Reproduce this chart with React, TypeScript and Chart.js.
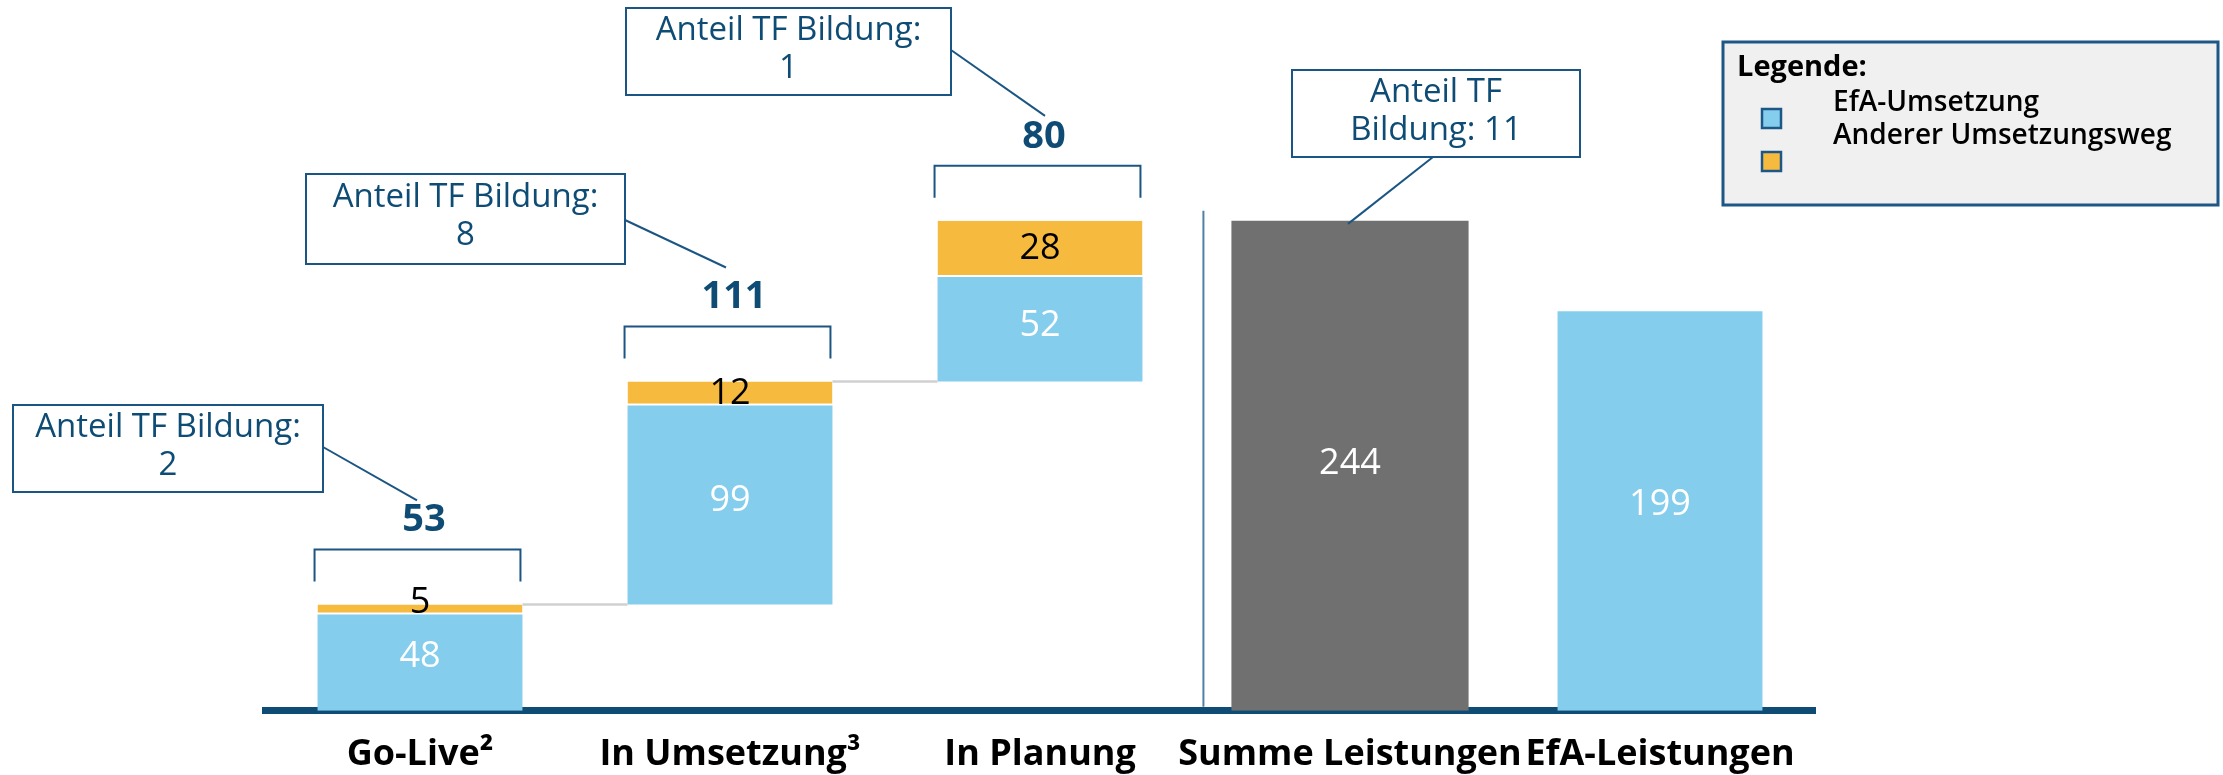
import React, { useEffect, useRef } from "react";
import { Chart, registerables } from "chart.js";

Chart.register(...registerables);

// ---------- data ----------
const categories = ["Go-Live²", "In Umsetzung³", "In Planung", "Summe Leistungen", "EfA-Leistungen"];
const efaValues: (number | null)[] = [48, 99, 52, null, 199];
const otherValues: (number | null)[] = [5, 12, 28, null, null];
const sumValues: (number | null)[] = [null, null, null, 244, null];
const totalValues: (number | null)[] = [53, 111, 80, null, null];
const tfShares: (number | null)[] = [2, 8, 1, 11, null];
const waterfallSteps = [true, true, true, false, false];

// ---------- styles ----------
const FONT = "'Open Sans', 'Noto Sans', 'DejaVu Sans', sans-serif";
const BLUE = "#84CDEC";
const ORANGE = "#F6BA3E";
const GRAY = "#707070";
const NAVY = "#0E4C75";
const BOXLINE = "#1B5583";

// build floating ranges from the values (waterfall)
const blueRanges: ([number, number] | null)[] = [];
const orangeRanges: ([number, number] | null)[] = [];
const sumRanges: ([number, number] | null)[] = [];
let running = 0;
categories.forEach((_, i) => {
  const base = waterfallSteps[i] ? running : 0;
  const b = efaValues[i];
  const o = otherValues[i];
  blueRanges.push(b == null ? null : [base, base + b]);
  orangeRanges.push(o == null ? null : [base + (b ?? 0), base + (b ?? 0) + o]);
  sumRanges.push(sumValues[i] == null ? null : [0, sumValues[i] as number]);
  if (waterfallSteps[i]) running = base + (b ?? 0) + (o ?? 0);
});

// callout box layout (annotation positions, not data)
const calloutLayout = [
  { left: 13, top: 405, width: 310, height: 87, anchor: [323, 447], end: [-3, -104], split: false },
  { left: 306, top: 174, width: 319, height: 90, anchor: [625, 220], end: [-4, -114], split: false },
  { left: 626, top: 8, width: 325, height: 87, anchor: [951, 50], end: [5, -105], split: false },
  { left: 1292, top: 70, width: 288, height: 87, anchor: [1433, 157], end: [-2, 3], split: true },
];

const annotationPlugin = {
  id: "annotations",
  afterDatasetsDraw(chart: any) {
    const ctx: CanvasRenderingContext2D = chart.ctx;
    const blue = chart.getDatasetMeta(0).data;
    const orange = chart.getDatasetMeta(1).data;
    const sum = chart.getDatasetMeta(2).data;
    const axisTop = chart.chartArea.bottom - 4;
    ctx.save();

    // waterfall connectors
    ctx.strokeStyle = "#D0D0D0";
    ctx.lineWidth = 2.5;
    for (let i = 0; i < 2; i++) {
      const a = orange[i];
      const b = blue[i + 1];
      ctx.beginPath();
      ctx.moveTo(a.x + a.width / 2, a.y);
      ctx.lineTo(b.x - b.width / 2, a.y);
      ctx.stroke();
    }

    // separator line before the sum bar
    const s = sum[3];
    ctx.strokeStyle = "#4F80A8";
    ctx.lineWidth = 2;
    ctx.beginPath();
    const sepX = s.x - s.width / 2 - 28;
    ctx.moveTo(sepX, s.y - 10);
    ctx.lineTo(sepX, axisTop);
    ctx.stroke();

    // brackets + totals
    for (let i = 0; i < 3; i++) {
      const top = orange[i];
      const left = top.x - top.width / 2 - 3;
      const right = top.x + top.width / 2 - 2;
      ctx.strokeStyle = BOXLINE;
      ctx.lineWidth = 2;
      ctx.beginPath();
      ctx.moveTo(left, top.y - 23);
      ctx.lineTo(left, top.y - 55);
      ctx.lineTo(right, top.y - 55);
      ctx.lineTo(right, top.y - 23);
      ctx.stroke();
      ctx.fillStyle = NAVY;
      ctx.font = `bold 38px ${FONT}`;
      ctx.textAlign = "center";
      ctx.textBaseline = "middle";
      ctx.fillText(String(totalValues[i]), top.x + 4, top.y - 84);
    }

    // segment labels
    ctx.textAlign = "center";
    ctx.font = `36px ${FONT}`;
    categories.forEach((_, i) => {
      const b = blue[i];
      if (efaValues[i] != null && b) {
        const bottom = Math.min(b.base, axisTop);
        ctx.fillStyle = "#FFFFFF";
        ctx.textBaseline = "middle";
        ctx.fillText(String(efaValues[i]), b.x, (b.y + bottom) / 2 - 4);
      }
      const o = orange[i];
      if (otherValues[i] != null && o) {
        ctx.fillStyle = "#000000";
        const h = o.base - o.y;
        if (h < 16) {
          ctx.textBaseline = "alphabetic";
          ctx.fillText(String(otherValues[i]), o.x, o.base - 1);
        } else {
          ctx.textBaseline = "middle";
          ctx.fillText(String(otherValues[i]), o.x, (o.y + o.base) / 2);
        }
      }
      const sm = sum[i];
      if (sumValues[i] != null && sm) {
        ctx.fillStyle = "#FFFFFF";
        ctx.textBaseline = "middle";
        ctx.fillText(String(sumValues[i]), sm.x, (sm.y + Math.min(sm.base, axisTop)) / 2);
      }
    });

    // callout boxes
    calloutLayout.forEach((c, i) => {
      const bar = i < 3 ? orange[i] : sum[i];
      const tf = tfShares[i];
      const lines = c.split ? ["Anteil TF", `Bildung: ${tf}`] : ["Anteil TF Bildung:", String(tf)];
      ctx.strokeStyle = BOXLINE;
      ctx.lineWidth = 2;
      ctx.beginPath();
      ctx.moveTo(c.anchor[0], c.anchor[1]);
      ctx.lineTo(bar.x + c.end[0], bar.y + c.end[1]);
      ctx.stroke();
      ctx.fillStyle = "#FFFFFF";
      ctx.fillRect(c.left, c.top, c.width, c.height);
      ctx.strokeRect(c.left, c.top, c.width, c.height);
      ctx.fillStyle = NAVY;
      ctx.font = `33px ${FONT}`;
      ctx.textAlign = "center";
      ctx.textBaseline = "middle";
      const cx = c.left + c.width / 2;
      const cy = c.top + c.height / 2 - 2;
      ctx.fillText(lines[0], cx, cy - 19);
      ctx.fillText(lines[1], cx, cy + 19);
    });

    // legend
    const lx = 1723, ly = 42, lw = 495, lh = 163;
    ctx.fillStyle = "#F0F0F0";
    ctx.fillRect(lx, ly, lw, lh);
    ctx.strokeStyle = "#1D5786";
    ctx.lineWidth = 3;
    ctx.strokeRect(lx, ly, lw, lh);
    ctx.fillStyle = "#000000";
    ctx.textAlign = "left";
    ctx.textBaseline = "alphabetic";
    ctx.font = `bold 29px ${FONT}`;
    ctx.fillText("Legende:", 1737, 76);
    ctx.font = `600 28px ${FONT}`;
    const legendItems = [0, 1];
    legendItems.forEach((d, k) => {
      const ds = chart.data.datasets[d];
      ctx.fillStyle = "#000000";
      ctx.fillText(ds.label, 1833, 111 + k * 33);
      ctx.fillStyle = ds.backgroundColor;
      const sy = 109 + k * 43;
      ctx.fillRect(1762, sy, 19, 19);
      ctx.strokeStyle = "#1D5786";
      ctx.lineWidth = 2.5;
      ctx.strokeRect(1762, sy, 19, 19);
    });

    ctx.restore();
  },
};

export default function App() {
  const ref = useRef<HTMLCanvasElement>(null);
  useEffect(() => {
    const chart = new Chart(ref.current as HTMLCanvasElement, {
      type: "bar",
      data: {
        labels: categories,
        datasets: [
          {
            label: "EfA-Umsetzung",
            data: blueRanges as any,
            backgroundColor: BLUE,
            borderWidth: 0,
            barPercentage: 0.661,
            categoryPercentage: 1,
            grouped: false,
          },
          {
            label: "Anderer Umsetzungsweg",
            data: orangeRanges as any,
            backgroundColor: ORANGE,
            borderColor: "#FFFFFF",
            borderWidth: { top: 0, left: 0, right: 0, bottom: 2 },
            borderSkipped: false,
            barPercentage: 0.661,
            categoryPercentage: 1,
            grouped: false,
          },
          {
            label: "Summe Leistungen",
            data: sumRanges as any,
            backgroundColor: GRAY,
            borderWidth: 0,
            barPercentage: 0.765,
            categoryPercentage: 1,
            grouped: false,
          },
        ],
      },
      options: {
        responsive: false,
        animation: false,
        events: [],
        layout: { padding: { left: 265, right: 408, top: 8, bottom: -23 } },
        plugins: { legend: { display: false }, tooltip: { enabled: false } },
        scales: {
          x: {
            z: 1,
            grid: { display: false, drawTicks: false },
            border: { display: true, color: NAVY, width: 7 },
            ticks: {
              color: "#000000",
              font: { family: FONT, size: 36, weight: "bold" },
              padding: 22,
              maxRotation: 0,
              autoSkip: false,
            },
          },
          y: { display: false, min: 0, max: 350 },
        },
      },
      plugins: [annotationPlugin],
    } as any);
    return () => chart.destroy();
  }, []);
  return (
    <div style={{ position: "fixed", left: 0, top: 0, width: 2223, height: 775, background: "#FFFFFF", overflow: "hidden" }}>
      <canvas ref={ref} width={2223} height={775} style={{ display: "block" }} />
    </div>
  );
}
